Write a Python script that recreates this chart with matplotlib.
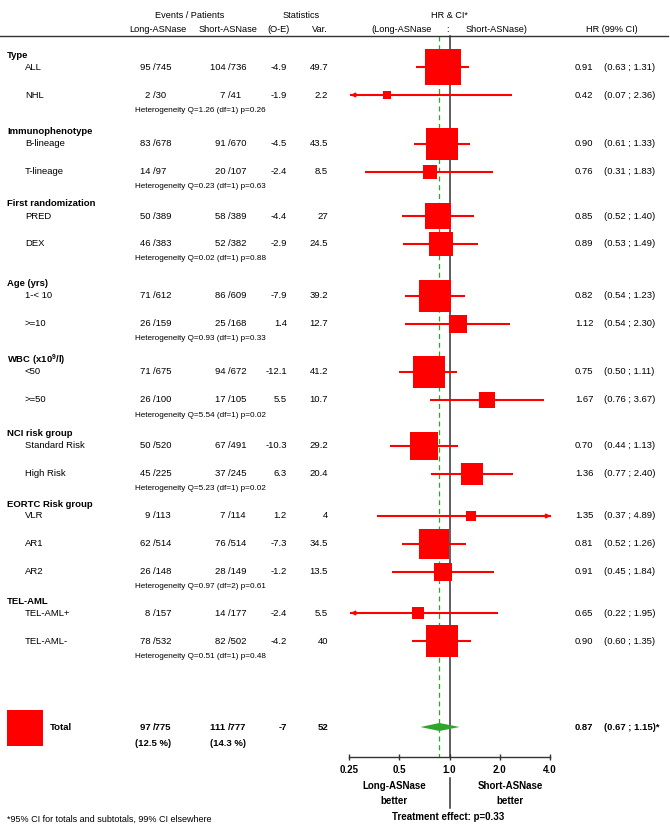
import numpy as np
import matplotlib.pyplot as plt
from matplotlib.patches import Rectangle
from matplotlib.lines import Line2D

plt.rcParams["font.family"] = ["Liberation Sans", "DejaVu Sans"]
plt.rcParams["mathtext.default"] = "regular"

# data
groups = ["Type", "Immunophenotype", "First randomization", "Age (yrs)",
          "WBC (x10$^{9}$/l)", "NCI risk group", "EORTC Risk group", "TEL-AML"]
group_sizes = [2, 2, 2, 2, 2, 2, 3, 2]
subgroups = ["ALL", "NHL", "B-lineage", "T-lineage", "PRED", "DEX", "1-< 10", ">=10",
             "<50", ">=50", "Standard Risk", "High Risk", "VLR", "AR1", "AR2",
             "TEL-AML+", "TEL-AML-"]
ev_long = [95, 2, 83, 14, 50, 46, 71, 26, 71, 26, 50, 45, 9, 62, 26, 8, 78]
pt_long = [745, 30, 678, 97, 389, 383, 612, 159, 675, 100, 520, 225, 113, 514, 148, 157, 532]
ev_short = [104, 7, 91, 20, 58, 52, 86, 25, 94, 17, 67, 37, 7, 76, 28, 14, 82]
pt_short = [736, 41, 670, 107, 389, 382, 609, 168, 672, 105, 491, 245, 114, 514, 149, 177, 502]
o_e = [-4.9, -1.9, -4.5, -2.4, -4.4, -2.9, -7.9, 1.4, -12.1, 5.5, -10.3, 6.3, 1.2, -7.3, -1.2, -2.4, -4.2]
var = [49.7, 2.2, 43.5, 8.5, 27, 24.5, 39.2, 12.7, 41.2, 10.7, 29.2, 20.4, 4, 34.5, 13.5, 5.5, 40]
hr = [0.91, 0.42, 0.90, 0.76, 0.85, 0.89, 0.82, 1.12, 0.75, 1.67, 0.70, 1.36, 1.35, 0.81, 0.91, 0.65, 0.90]
ci_lo = [0.63, 0.07, 0.61, 0.31, 0.52, 0.53, 0.54, 0.54, 0.50, 0.76, 0.44, 0.77, 0.37, 0.52, 0.45, 0.22, 0.60]
ci_hi = [1.31, 2.36, 1.33, 1.83, 1.40, 1.49, 1.23, 2.30, 1.11, 3.67, 1.13, 2.40, 4.89, 1.26, 1.84, 1.95, 1.35]
heterogeneity = ["Q=1.26 (df=1) p=0.26", "Q=0.23 (df=1) p=0.63", "Q=0.02 (df=1) p=0.88",
                 "Q=0.93 (df=1) p=0.33", "Q=5.54 (df=1) p=0.02", "Q=5.23 (df=1) p=0.02",
                 "Q=0.97 (df=2) p=0.61", "Q=0.51 (df=1) p=0.48"]

total_ev = [97, 111]
total_pt = [775, 777]
total_pct = [12.5, 14.3]
total_oe = -7
total_var = 52
total_hr = 0.87
total_ci = [0.67, 1.15]
p_value = 0.33
ticks = [0.25, 0.5, 1.0, 2.0, 4.0]

RED = "#ff0000"
GREEN = "#2ea62e"
DARK = "#333333"
W, H = 670, 827

# layout (pixels from top-left)
first_row = 67
pitch = 28
group_gap = [49, 44, 52, 48, 46, 42, 41]
axis_y = 757
box_scale = 5.0  # px per sqrt(variance)


def fx(x):
    return x / W


def fy(y):
    return 1 - y / H


fig = plt.figure(figsize=(W / 100, H / 100), dpi=100)

ax = fig.add_axes([349 / W, 1 - axis_y / H, 201 / W, axis_y / H])
ax.set_xscale("log", base=2)
ax.set_xlim(0.25, 4)
ax.set_ylim(axis_y, 0)
for s in ["top", "left", "right"]:
    ax.spines[s].set_visible(False)
ax.spines["bottom"].set_color(DARK)
ax.spines["bottom"].set_linewidth(1.0)
ax.set_yticks([])
ax.set_xticks(ticks)
ax.set_xticklabels([f"{t:.2f}" if t < 0.5 else f"{t:.1f}" for t in ticks],
                   fontsize=7, fontweight="bold")
ax.minorticks_off()
ax.tick_params(axis="x", direction="inout", length=5, width=1, color=DARK, pad=3)
ax.patch.set_alpha(0)

# reference lines
ax.plot([1, 1], [36, axis_y], color=DARK, lw=1.1)
ax.plot([1, 1], [778, 808], color=DARK, lw=1.1, clip_on=False)
ax.plot([total_hr, total_hr], [36, axis_y], color=GREEN, lw=0.9, ls=(0, (4, 3)))

fig.add_artist(Line2D([0, 668 / W], [fy(36), fy(36)], color=DARK, lw=1.0))

# headers
hs = 6.6
fig.text(fx(190), fy(16), "Events / Patients", ha="center", va="center", fontsize=hs)
fig.text(fx(301), fy(16), "Statistics", ha="center", va="center", fontsize=hs)
fig.text(fx(449), fy(16), "HR & CI*", ha="center", va="center", fontsize=hs)
fig.text(fx(158), fy(29), "Long-ASNase", ha="center", va="center", fontsize=hs)
fig.text(fx(228), fy(29), "Short-ASNase", ha="center", va="center", fontsize=hs)
fig.text(fx(278), fy(29), "(O-E)", ha="center", va="center", fontsize=hs)
fig.text(fx(320), fy(29), "Var.", ha="center", va="center", fontsize=hs)
fig.text(fx(432), fy(29), "(Long-ASNase", ha="right", va="center", fontsize=hs)
fig.text(fx(447), fy(29), ":", ha="center", va="center", fontsize=hs)
fig.text(fx(466), fy(29), "Short-ASNase)", ha="left", va="center", fontsize=hs)
fig.text(fx(612), fy(29), "HR (99% CI)", ha="center", va="center", fontsize=hs)

fs = 6.8
slash_l, slash_s = 153, 228


def row_text(y, label, el, pl, es, ps, oe, v, h, lo, hi, bold=False, x_label=25):
    w = "bold" if bold else "normal"
    fig.text(fx(x_label), fy(y), label, ha="left", va="center", fontsize=fs, fontweight=w)
    fig.text(fx(slash_l), fy(y), f"{el} ", ha="right", va="center", fontsize=fs, fontweight=w)
    fig.text(fx(slash_l), fy(y), f"/{pl}", ha="left", va="center", fontsize=fs, fontweight=w)
    fig.text(fx(slash_s), fy(y), f"{es} ", ha="right", va="center", fontsize=fs, fontweight=w)
    fig.text(fx(slash_s), fy(y), f"/{ps}", ha="left", va="center", fontsize=fs, fontweight=w)
    fig.text(fx(287), fy(y), f"{oe:g}", ha="right", va="center", fontsize=fs, fontweight=w)
    fig.text(fx(328), fy(y), f"{v:g}", ha="right", va="center", fontsize=fs, fontweight=w)
    fig.text(fx(575), fy(y), f"{h:.2f}", ha="left", va="center", fontsize=fs, fontweight=w)
    fig.text(fx(604), fy(y), f"({lo:.2f} ; {hi:.2f})" + ("*" if bold else ""),
             ha="left", va="center", fontsize=fs, fontweight=w)


def px_to_log(px):
    return px / 50.25


i = 0
y = first_row
for g, (name, n) in enumerate(zip(groups, group_sizes)):
    if g > 0:
        y += group_gap[g - 1]
    fig.text(fx(7), fy(y - 12), name, ha="left", va="center", fontsize=fs, fontweight="bold")
    for k in range(n):
        if k > 0:
            y += pitch
        row_text(y, subgroups[i], ev_long[i], pt_long[i], ev_short[i], pt_short[i],
                 o_e[i], var[i], hr[i], ci_lo[i], ci_hi[i])
        lo_c = max(ci_lo[i], 0.255)
        hi_c = min(ci_hi[i], 4.05)
        ax.plot([lo_c, hi_c], [y, y], color=RED, lw=1.5, solid_capstyle="butt", clip_on=False)
        if ci_lo[i] < 0.25:
            ax.annotate("", xy=(lo_c, y), xytext=(lo_c * 1.2, y),
                        arrowprops=dict(arrowstyle="-|>", color=RED, lw=1.2,
                                        mutation_scale=6, shrinkA=0, shrinkB=0),
                        annotation_clip=False)
        if ci_hi[i] > 4:
            ax.annotate("", xy=(hi_c, y), xytext=(hi_c / 1.2, y),
                        arrowprops=dict(arrowstyle="-|>", color=RED, lw=1.2,
                                        mutation_scale=6, shrinkA=0, shrinkB=0),
                        annotation_clip=False)
        side = box_scale * np.sqrt(var[i])
        ax.scatter([hr[i]], [y], marker="s", s=(side * 0.72) ** 2, color=RED,
                   linewidths=0, zorder=3, clip_on=False)
        i += 1
    fig.text(fx(135), fy(y + 15), "Heterogeneity " + heterogeneity[g], ha="left",
             va="center", fontsize=5.9)

# total row
ty = 727
side = box_scale * np.sqrt(total_var)
fig.add_artist(Rectangle((fx(7), fy(ty - 17 + side)), side / W, side / H,
                         transform=fig.transFigure, color=RED, lw=0))
row_text(ty, "Total", total_ev[0], total_pt[0], total_ev[1], total_pt[1], total_oe,
         total_var, total_hr, total_ci[0], total_ci[1], bold=True, x_label=50)
fig.text(fx(slash_l), fy(744), f"({total_pct[0]} %)", ha="center", va="center",
         fontsize=fs, fontweight="bold")
fig.text(fx(slash_s), fy(744), f"({total_pct[1]} %)", ha="center", va="center",
         fontsize=fs, fontweight="bold")
ax.fill([total_ci[0], total_hr, total_ci[1], total_hr], [ty, ty - 4, ty, ty + 4],
        color=GREEN, lw=0, zorder=3)

# bottom labels
fig.text(fx(394), fy(786), "Long-ASNase", ha="center", va="center", fontsize=7, fontweight="bold")
fig.text(fx(394), fy(801), "better", ha="center", va="center", fontsize=7, fontweight="bold")
fig.text(fx(510), fy(786), "Short-ASNase", ha="center", va="center", fontsize=7, fontweight="bold")
fig.text(fx(510), fy(801), "better", ha="center", va="center", fontsize=7, fontweight="bold")
fig.text(fx(448), fy(817), f"Treatment effect: p={p_value}", ha="center", va="center",
         fontsize=7, fontweight="bold")
fig.text(fx(7), fy(819), "*95% CI for totals and subtotals, 99% CI elsewhere",
         ha="left", va="center", fontsize=6.5)

fig.savefig("out.png", dpi=100)
